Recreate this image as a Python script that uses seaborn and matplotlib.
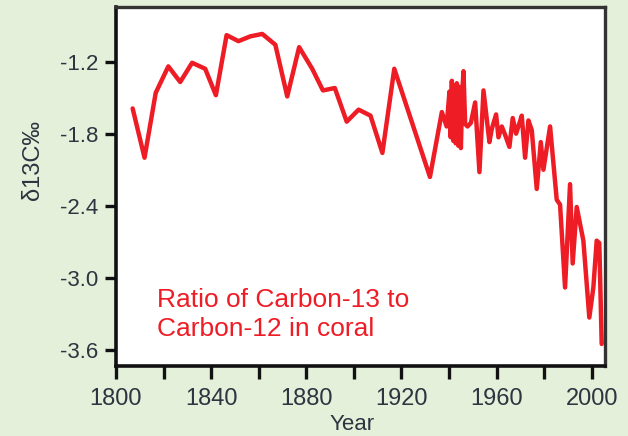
import pandas as pd
import matplotlib.pyplot as plt
import seaborn as sns

# ----------------------------------------------------------------------------
# Datos (delta 13C en coral)
# ----------------------------------------------------------------------------
years = [1807, 1812, 1816.7, 1822, 1827, 1832, 1837.5, 1842, 1846.5, 1851.5,
         1856.5, 1861.5, 1867, 1872, 1877, 1882.5, 1887, 1892, 1897, 1902,
         1907, 1912, 1917, 1932, 1937, 1939, 1940.2, 1940.7, 1941.2, 1941.8,
         1942.3, 1942.8, 1943.3, 1943.9, 1944.4, 1945, 1945.6, 1946.1, 1946.8,
         1947.8, 1949.2, 1951, 1952.8, 1954.5, 1957, 1958, 1959.8, 1960.8,
         1962.2, 1963.6, 1965.4, 1966.8, 1968.2, 1969.5, 1970.6, 1972, 1973.4,
         1974.8, 1976.9, 1978.6, 1979.7, 1982.5, 1985.3, 1986.7, 1988.8,
         1990.9, 1992, 1993.7, 1996.5, 1999, 2000.7, 2002.1, 2003.2, 2004.2]
d13c = [-1.59, -2.00, -1.46, -1.24, -1.37, -1.21, -1.26, -1.48, -0.98, -1.03,
        -0.99, -0.97, -1.06, -1.49, -1.08, -1.26, -1.44, -1.42, -1.70, -1.60,
        -1.65, -1.96, -1.26, -2.16, -1.62, -1.74, -1.45, -1.83, -1.36, -1.86,
        -1.40, -1.88, -1.38, -1.90, -1.41, -1.92, -1.45, -1.28, -1.72,
        -1.74, -1.71, -1.54, -2.12, -1.44, -1.87, -1.76, -1.64, -1.83,
        -1.74, -1.81, -1.91, -1.67, -1.80, -1.72, -1.65, -2.00, -1.69,
        -1.77, -2.26, -1.87, -2.10, -1.74, -2.35, -2.39, -3.08,
        -2.22, -2.88, -2.41, -2.69, -3.33, -3.08, -2.69, -2.71, -3.55]

xticks_major = [1800, 1840, 1880, 1920, 1960, 2000]
xticks_minor = [1820, 1860, 1900, 1940, 1980]
yticks = [-1.2, -1.8, -2.4, -3.0, -3.6]
ytick_labels = ["-1.2", "-1.8", "-2.4", "-3.0", "-3.6"]

df = pd.DataFrame({"year": years, "d13c": d13c})

# ----------------------------------------------------------------------------
# Estilo
# ----------------------------------------------------------------------------
sns.set_theme(style="white")
plt.rcParams['font.family'] = ['Liberation Sans', 'DejaVu Sans']

bg = "#e4f0da"
red = "#ee1c25"
txt = "#2e3440"

fig = plt.figure(figsize=(6.28, 4.36), dpi=100, facecolor=bg)
ax = fig.add_axes([0.1847, 0.1606, 0.7787, 0.8222])
ax.set_facecolor("white")

sns.lineplot(data=df, x="year", y="d13c", ax=ax, color=red, linewidth=3.2,
             sort=False, estimator=None)

ax.set_xlim(1800, 2005.6)
ax.set_ylim(-3.733, -0.75)

ax.set_xticks(xticks_major)
ax.set_xticks(xticks_minor, minor=True)
ax.set_yticks(yticks)
ax.set_yticklabels(ytick_labels)

ax.tick_params(axis="x", which="both", direction="out", length=9.5, width=2.4,
               color="#111111", bottom=True, pad=6, labelsize=17, labelcolor=txt)
ax.tick_params(axis="y", which="major", direction="out", length=8, width=2.4,
               color="#111111", left=True, pad=5, labelsize=16, labelcolor=txt)

for side in ["left", "bottom"]:
    ax.spines[side].set_color("#111111")
    ax.spines[side].set_linewidth(2.6)
for side in ["top", "right"]:
    ax.spines[side].set_color("#333333")
    ax.spines[side].set_linewidth(2.4)

ax.set_xlabel("Year", fontsize=16, color=txt, va="bottom")
ax.xaxis.set_label_coords(0.483, -0.1925)
ax.set_ylabel("δ13C‰", fontsize=17, color=txt)
ax.yaxis.set_label_coords(-0.148, 0.575)

ax.text(0.084, 0.071, "Ratio of Carbon-13 to\nCarbon-12 in coral",
        transform=ax.transAxes, color=red, fontsize=19, ha="left",
        va="bottom", linespacing=1.22)

fig.savefig("out.png", dpi=100, facecolor=bg)
plt.close(fig)
